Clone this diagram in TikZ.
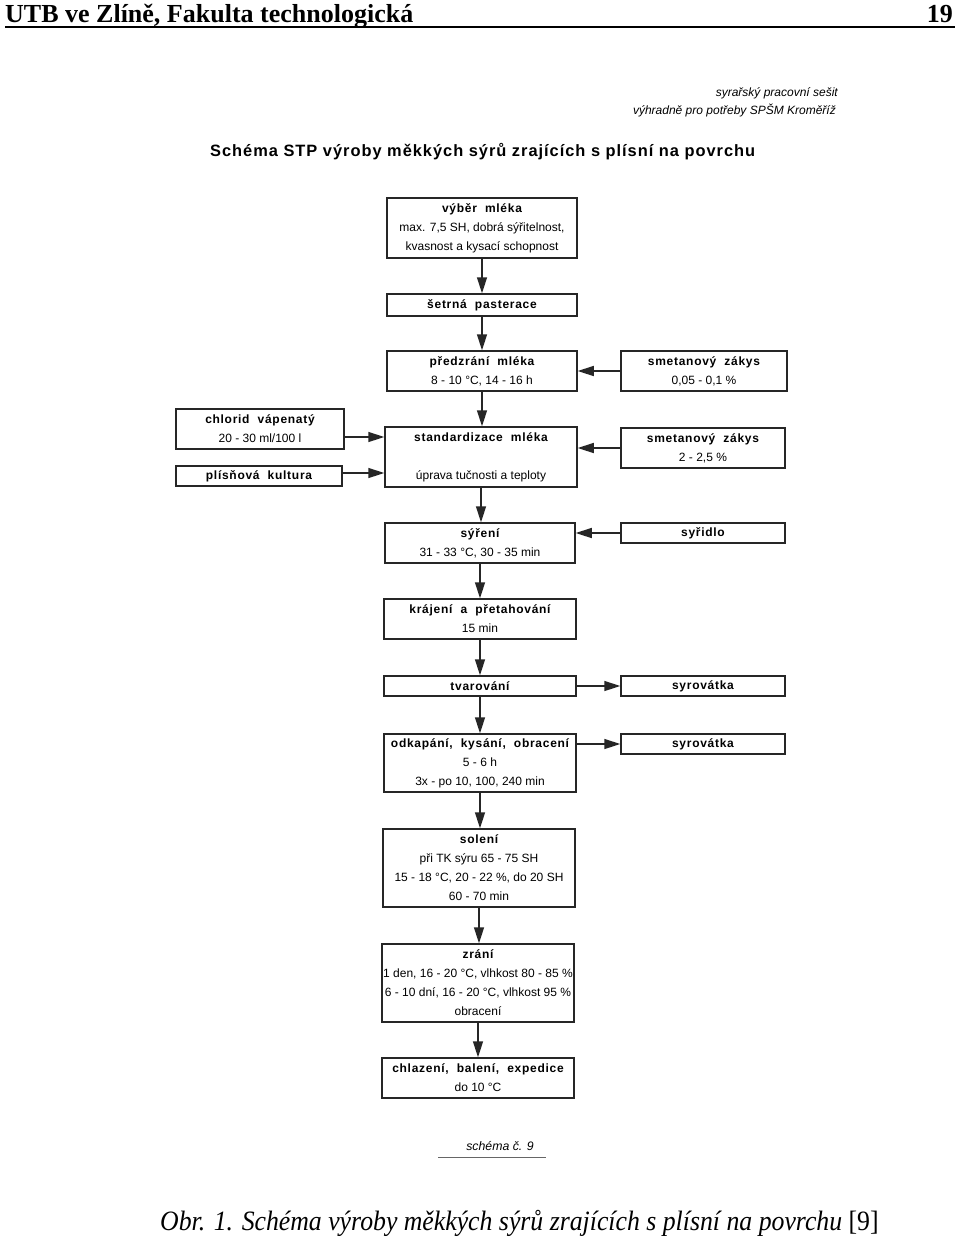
\documentclass[tikz,border=0pt]{standalone}
\usepackage{fontspec}
\usepackage{graphicx}
\setmainfont{Liberation Serif}
\setsansfont{Liberation Sans}
\newfontfamily\spacedfont{Liberation Sans}[LetterSpace=6]
\usetikzlibrary{arrows.meta}

\newcommand{\nadpis}[1]{{\spacedfont\bfseries #1}}

\tikzset{
  krok/.style={draw=black!85, line width=1.5pt, align=center, inner sep=0pt,
    font=\sffamily\fontsize{12}{19}\selectfont},
  sipka/.style={draw=black!85, line width=1.5pt, -{Triangle[width=10pt,length=16pt]}},
}

\begin{document}
\begin{tikzpicture}[x=1pt, y=-1pt]
  \useasboundingbox[fill=white] (0,0) rectangle (960,1237);

  % page head
  \node[anchor=base west, inner sep=0pt, font=\bfseries\fontsize{26}{30}\selectfont] (hlava) at (5,22)
    {UTB ve Zlíně, Fakulta technologická};
  \node[anchor=base east, inner sep=0pt, font=\bfseries\fontsize{26}{30}\selectfont] (strana) at (953,22)
    {19};
  \draw[line width=1.2pt] (5,27) -- (955,27);

  % sheet head
  \node[anchor=base east, inner sep=0pt, font=\sffamily\itshape\fontsize{12}{14}\selectfont] (sesit) at (838,96)
    {syrařský pracovní sešit};
  \node[anchor=base east, inner sep=0pt, font=\sffamily\itshape\fontsize{12}{14}\selectfont] (vyhradne) at (836,114)
    {výhradně pro potřeby SPŠM Kroměříž};
  \node[anchor=base west, inner sep=0pt, font=\fontsize{16.4}{18}\selectfont] (nazev) at (210,156)
    {\nadpis{Schéma STP výroby měkkých sýrů zrajících s plísní na povrchu}};

  % main column
  \node[krok, minimum width=190pt, minimum height=60pt] (vyber) at (482,228)
    {\nadpis{výběr\ \ mléka}\\max. 7,5 SH, dobrá sýřitelnost,\\kvasnost a kysací schopnost};
  \node[krok, minimum width=190pt, minimum height=22pt] (pasterace) at (482,305)
    {\nadpis{šetrná\ \ pasterace}};
  \node[krok, minimum width=190pt, minimum height=40pt] (predzrani) at (482,371)
    {\nadpis{předzrání\ \ mléka}\\8 - 10 °C, 14 - 16 h};
  \node[krok, minimum width=192pt, minimum height=60pt] (standard) at (481,457)
    {\nadpis{standardizace\ \ mléka}\\[19pt]úprava tučnosti a teploty};
  \node[krok, minimum width=190pt, minimum height=40pt] (syreni) at (480,543)
    {\nadpis{sýření}\\31 - 33 °C, 30 - 35 min};
  \node[krok, minimum width=192pt, minimum height=40pt] (krajeni) at (480,619)
    {\nadpis{krájení\ \ a\ \ přetahování}\\15 min};
  \node[krok, minimum width=192pt, minimum height=20pt] (tvarovani) at (480,686)
    {\nadpis{tvarování}};
  \node[krok, minimum width=192pt, minimum height=58pt] (odkapani) at (480,763)
    {\nadpis{odkapání,\ \ kysání,\ \ obracení}\\5 - 6 h\\3x - po 10, 100, 240 min};
  \node[krok, minimum width=192pt, minimum height=78pt] (soleni) at (479,868)
    {\nadpis{solení}\\při TK sýru 65 - 75 SH\\15 - 18 °C, 20 - 22 \%, do 20 SH\\60 - 70 min};
  \node[krok, minimum width=192pt, minimum height=78pt] (zrani) at (478,983)
    {\nadpis{zrání}\\1 den, 16 - 20 °C, vlhkost 80 - 85 \%\\6 - 10 dní, 16 - 20 °C, vlhkost 95 \%\\obracení};
  \node[krok, minimum width=192pt, minimum height=40pt] (chlazeni) at (478,1078)
    {\nadpis{chlazení,\ \ balení,\ \ expedice}\\do 10 °C};

  % side boxes
  \node[krok, minimum width=166pt, minimum height=40pt] (zakysA) at (704,371)
    {\nadpis{smetanový\ \ zákys}\\0,05 - 0,1 \%};
  \node[krok, minimum width=164pt, minimum height=40pt] (zakysB) at (703,448)
    {\nadpis{smetanový\ \ zákys}\\2 - 2,5 \%};
  \node[krok, minimum width=168pt, minimum height=40pt] (chlorid) at (260,429)
    {\nadpis{chlorid\ \ vápenatý}\\20 - 30 ml/100 l};
  \node[krok, minimum width=166pt, minimum height=20pt] (plisen) at (259,476)
    {\nadpis{plísňová\ \ kultura}};
  \node[krok, minimum width=164pt, minimum height=20pt] (syridlo) at (703,533)
    {\nadpis{syřidlo}};
  \node[krok, minimum width=164pt, minimum height=20pt] (syrovatkaA) at (703,686)
    {\nadpis{syrovátka}};
  \node[krok, minimum width=164pt, minimum height=20pt] (syrovatkaB) at (703,744)
    {\nadpis{syrovátka}};

  % arrows down the column
  \foreach \a/\b in {vyber/pasterace, pasterace/predzrani, predzrani/standard,
      standard/syreni, syreni/krajeni, krajeni/tvarovani, tvarovani/odkapani,
      odkapani/soleni, soleni/zrani, zrani/chlazeni}
    \draw[sipka] (\a.south) -- (\a.south |- \b.north);

  % side arrows
  \draw[sipka] (zakysA.west) -- (zakysA.west -| predzrani.east);
  \draw[sipka] (zakysB.west) -- (zakysB.west -| standard.east);
  \draw[sipka] ([yshift=-8pt]chlorid.east) -- ([yshift=-8pt]chlorid.east -| standard.west);
  \draw[sipka] ([yshift=3pt]plisen.east) -- ([yshift=3pt]plisen.east -| standard.west);
  \draw[sipka] (syridlo.west) -- (syridlo.west -| syreni.east);
  \draw[sipka] (tvarovani.east) -- (tvarovani.east -| syrovatkaA.west);
  \draw[sipka] (odkapani.east |- syrovatkaB.west) -- (syrovatkaB.west);

  % sheet foot
  \node[anchor=base, inner sep=0pt, font=\sffamily\itshape\fontsize{12.3}{14}\selectfont] (schema) at (500,1150)
    {schéma č. 9};
  \draw[black!60, line width=0.8pt] (438,1157) -- (546,1157);

  % caption
  \node[anchor=base west, inner sep=0pt, font=\fontsize{28}{32}\selectfont] (popisek) at (160,1230)
    {\scalebox{0.92}[1]{\itshape Obr. 1. Schéma výroby měkkých sýrů zrajících s plísní na povrchu \upshape[9]}};
\end{tikzpicture}
\end{document}
